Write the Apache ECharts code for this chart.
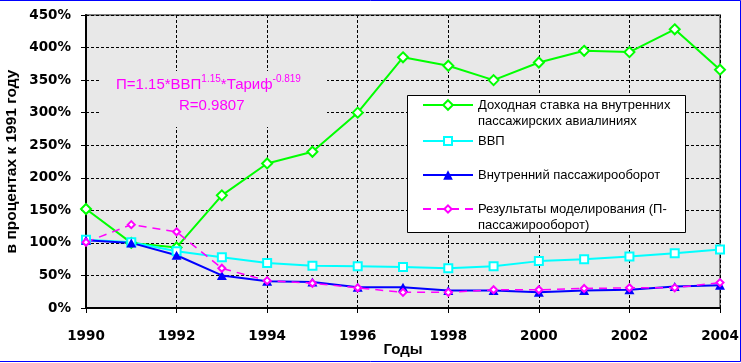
<!DOCTYPE html>
<html>
<head>
<meta charset="utf-8">
<script src="https://cdn.jsdelivr.net/npm/echarts@6/dist/echarts.min.js"></script>
<style>
html,body{margin:0;padding:0;background:#fff;}
#chart{width:741px;height:363px;}
</style>
</head>
<body>
<div id="chart"></div>
<script>
// ---- data ----
var years = [1990, 1991, 1992, 1993, 1994, 1995, 1996, 1997, 1998, 1999, 2000, 2001, 2002, 2003, 2004];
var tariff  = [152, 100, 93, 173, 222, 240, 300, 385, 372, 350, 377, 395, 393, 428, 366];
var gdp     = [105, 101, 87, 78, 69, 65, 64, 63, 61, 64, 72, 75, 79, 84, 90];
var traffic = [104, 100, 81, 50, 41, 40, 32, 32, 27, 27, 24, 27, 28, 33, 35];
var model   = [101, 128, 117, 61, 42, 38, 31, 24, 24, 28, 28, 30, 31, 31, 39];
var seriesNames = [
  'Доходная ставка на внутренних\nпассажирских авиалиниях',
  'ВВП',
  'Внутренний пассажирооборот',
  'Результаты моделирования (П-\nпассажирооборот)'
];
var yTicks = {min: 0, max: 450, interval: 50};
var xTicks = {min: 1990, max: 2004, interval: 2};
var xTitle = 'Годы';
var yTitle = 'в процентах к 1991 году';

function pairs(vals) { return years.map(function (y, i) { return [y, vals[i]]; }); }

var plotBg = '#e8e8e8';
var tickFont = {fontFamily: 'DejaVu Sans', fontWeight: 'bold', fontSize: 13.5, color: '#000'};
var legendText = {fontFamily: 'Liberation Sans', fontSize: 13, color: '#000', lineHeight: 16};

function legendFor(name, top, h, two) {
  return {
    data: [name], left: 422, top: top, orient: 'vertical', padding: 0,
    itemWidth: 50, itemHeight: h, itemGap: 0, itemTextGap: 3,
    formatter: two ? function (n) { return '\n' + n; } : '{name}',
    textStyle: legendText, selectedMode: false
  };
}

var chart = echarts.init(document.getElementById('chart'), null, {renderer: 'canvas'});
chart.setOption({
  animation: false,
  backgroundColor: '#fff',
  grid: {left: 86, right: 21, top: 15, bottom: 55, show: true, backgroundColor: plotBg,
         borderColor: '#808080', borderWidth: 2, containLabel: false, outerBoundsMode: 'none'},
  xAxis: {
    type: 'value', min: xTicks.min, max: xTicks.max, interval: xTicks.interval,
    name: xTitle, nameLocation: 'middle', nameGap: 34, nameMoveOverlap: false,
    nameTextStyle: {fontFamily: 'Liberation Sans', fontWeight: 'bold', fontSize: 15, color: '#000'},
    axisLine: {lineStyle: {color: '#000', width: 2}},
    axisTick: {show: true, length: 5, lineStyle: {color: '#000', width: 1}},
    axisLabel: Object.assign({margin: 21, formatter: function (v) { return String(v); }}, tickFont),
    splitLine: {show: true, lineStyle: {color: '#000', width: 1, type: [3, 2]}}
  },
  yAxis: {
    type: 'value', min: yTicks.min, max: yTicks.max, interval: yTicks.interval,
    name: yTitle, nameLocation: 'middle', nameGap: 66, nameRotate: 90, nameMoveOverlap: false,
    nameTextStyle: {fontFamily: 'Liberation Sans', fontWeight: 'bold', fontSize: 15.5, color: '#000'},
    axisLine: {lineStyle: {color: '#000', width: 2}},
    axisTick: {show: true, length: 5, lineStyle: {color: '#000', width: 1}},
    axisLabel: Object.assign({margin: 15, formatter: '{value}%'}, tickFont),
    splitLine: {show: true, lineStyle: {color: '#000', width: 1, type: [3, 2]}}
  },
  legend: [
    legendFor(seriesNames[0], 81, 12, true),
    legendFor(seriesNames[1], 133, 10, false),
    legendFor(seriesNames[2], 167, 12, false),
    legendFor(seriesNames[3], 185, 9, true)
  ],
  series: [
    {name: seriesNames[0], type: 'line', data: pairs(tariff), color: '#00ff00',
     symbol: 'emptyDiamond', symbolSize: 10, lineStyle: {width: 2, color: '#00ff00'},
     itemStyle: {color: '#00ff00', borderWidth: 2}},
    {name: seriesNames[1], type: 'line', data: pairs(gdp), color: '#00ffff',
     symbol: 'emptyRect', symbolSize: 8, lineStyle: {width: 2, color: '#00ffff'},
     itemStyle: {color: '#00ffff', borderWidth: 2}},
    {name: seriesNames[2], type: 'line', data: pairs(traffic), color: '#0000ff',
     symbol: 'triangle', symbolSize: [10, 9], lineStyle: {width: 2, color: '#0000ff'},
     itemStyle: {color: '#0000ff'}},
    {name: seriesNames[3], type: 'line', data: pairs(model), color: '#ff00ff',
     symbol: 'emptyDiamond', symbolSize: 7, lineStyle: {width: 1.5, color: '#ff00ff', type: [8, 6]},
     itemStyle: {color: '#ff00ff', borderWidth: 2}}
  ],
  graphic: [
    {type: 'rect', z: 1, shape: {x: 101, y: 71, width: 226, height: 56}, style: {fill: plotBg}},
    {type: 'text', z: 5, left: 116, top: 74,
     style: {
       text: '{n|П=1.15*ВВП}{s|1.15}{n|*Тариф}{s|-0.819}',
       fill: '#ff00ff',
       rich: {
         n: {fontFamily: 'Liberation Sans', fontSize: 15, fill: '#ff00ff', lineHeight: 18, verticalAlign: 'bottom'},
         s: {fontFamily: 'Liberation Sans', fontSize: 10, fill: '#ff00ff', lineHeight: 12, verticalAlign: 'top'}
       }
     }},
    {type: 'text', z: 5, left: 179, top: 98,
     style: {text: 'R=0.9807', fontFamily: 'Liberation Sans', fontSize: 15, fill: '#ff00ff'}},
    {type: 'rect', z: 3, shape: {x: 407.5, y: 95.5, width: 278, height: 137},
     style: {fill: '#fff', stroke: '#000', lineWidth: 1}},
    {type: 'polyline', z: 10, shape: {points: [[0, 0.5], [740.5, 0.5], [740.5, 361.5], [0, 361.5]]},
     style: {stroke: '#0000ff', lineWidth: 1, fill: null}}
  ]
});
</script>
</body>
</html>
